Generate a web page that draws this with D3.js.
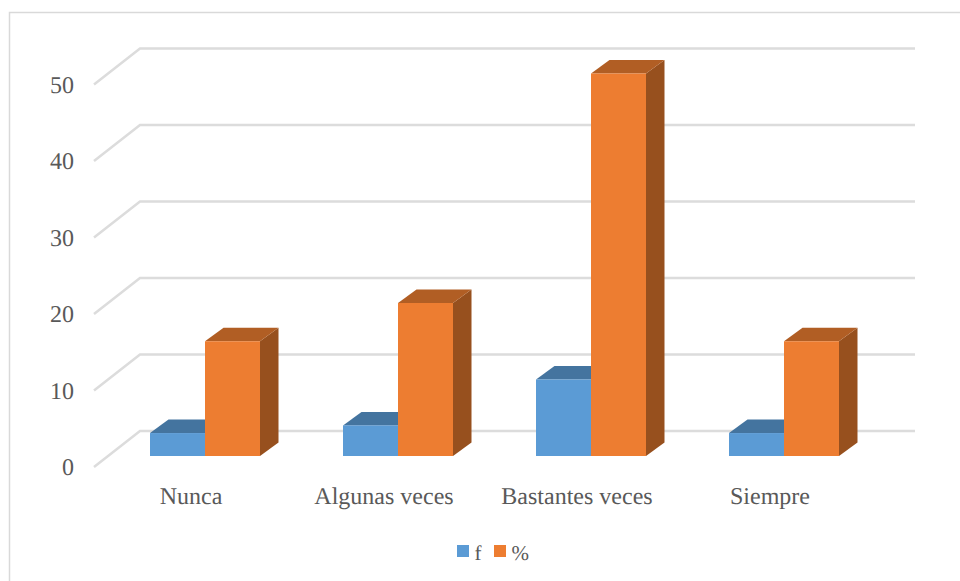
<!DOCTYPE html>
<html>
<head>
<meta charset="utf-8">
<script src="https://cdn.jsdelivr.net/npm/d3@7"></script>
<style>
  body { margin: 0; background: #fff; }
  text { font-family: "Liberation Serif", serif; fill: #595959; text-rendering: geometricPrecision; }
</style>
</head>
<body>
<div id="chart"></div>
<script>
const categories = ["Nunca", "Algunas veces", "Bastantes veces", "Siempre"];
const seriesNames = ["f", "%"];
const fValues = [3, 4, 10, 3];
const pctValues = [15, 20, 50, 15];
const tickValues = [0, 10, 20, 30, 40, 50];

const width = 960, height = 581;
const colors = {
  f: { front: "#5B9BD5", top: "#44749F", side: "#3A6A96" },
  "%": { front: "#ED7D31", top: "#B15E24", side: "#97501E" }
};

// depth of the fake 3d box
const depthX = 18.5, depthY = -13.5;
const baseY = 456, wallX = 94, wallY = 467, backX = 140, backY = 431, gridEnd = 915;

const svg = d3.select("#chart").append("svg")
  .attr("width", width)
  .attr("height", height)
  .style("display", "block");

// chart border, only top and left show in the picture
svg.append("path")
  .attr("d", "M960,12.5H9.5V581")
  .attr("fill", "none")
  .attr("stroke", "#d9d9d9")
  .attr("stroke-width", 1.5);

const y = d3.scaleLinear().domain([0, 50]).range([0, -382.5]);
const x0 = d3.scaleBand().domain(categories).range([108.5, 880.5]);
const x1 = d3.scaleBand().domain(seriesNames).range([41.5, 151.5]);

// gridlines: wall diagonal + back line
svg.append("g").selectAll("path")
  .data(tickValues)
  .join("path")
  .attr("d", d => `M${wallX},${wallY + y(d)}L${backX},${backY + y(d)}H${gridEnd}`)
  .attr("fill", "none")
  .attr("stroke", "#dcdcdc")
  .attr("stroke-width", 2.5);

svg.append("g").selectAll("text")
  .data(tickValues)
  .join("text")
  .attr("x", 74)
  .attr("y", d => wallY + y(d) + 8)
  .attr("text-anchor", "end")
  .attr("font-size", 24)
  .text(d => d);

const rows = categories.map((c, i) => ({ cat: c, f: fValues[i], "%": pctValues[i] }));

const groups = svg.append("g").selectAll("g")
  .data(rows)
  .join("g")
  .attr("transform", d => `translate(${x0(d.cat)},${baseY})`);

const bars = groups.selectAll("g")
  .data(d => seriesNames.map(s => ({ s: s, v: d[s] })))
  .join("g")
  .attr("transform", d => `translate(${x1(d.s)},0)`);

const bw = x1.bandwidth();

bars.append("path") // side
  .attr("fill", d => colors[d.s].side)
  .attr("d", d => `M${bw},0V${y(d.v)}l${depthX},${depthY}V${depthY}Z`);
bars.append("path") // top
  .attr("fill", d => colors[d.s].top)
  .attr("d", d => `M0,${y(d.v)}l${depthX},${depthY}H${bw + depthX}L${bw},${y(d.v)}Z`);
bars.append("rect") // front
  .attr("fill", d => colors[d.s].front)
  .attr("y", d => y(d.v))
  .attr("width", bw)
  .attr("height", d => -y(d.v));

svg.append("g").selectAll("text")
  .data(categories)
  .join("text")
  .attr("x", d => x0(d) + x0.bandwidth() / 2 - 14)
  .attr("y", 504)
  .attr("text-anchor", "middle")
  .attr("font-size", 24)
  .text(d => d);

// legend
const legendX = d3.scaleOrdinal().domain(seriesNames).range([457, 494]);
const legend = svg.append("g").selectAll("g")
  .data(seriesNames)
  .join("g")
  .attr("transform", d => `translate(${legendX(d)},545)`);
legend.append("rect")
  .attr("width", 12)
  .attr("height", 12)
  .attr("fill", d => colors[d].front);
legend.append("text")
  .attr("x", 17.5)
  .attr("y", 15)
  .attr("font-size", 21)
  .text(d => d);
</script>
</body>
</html>
